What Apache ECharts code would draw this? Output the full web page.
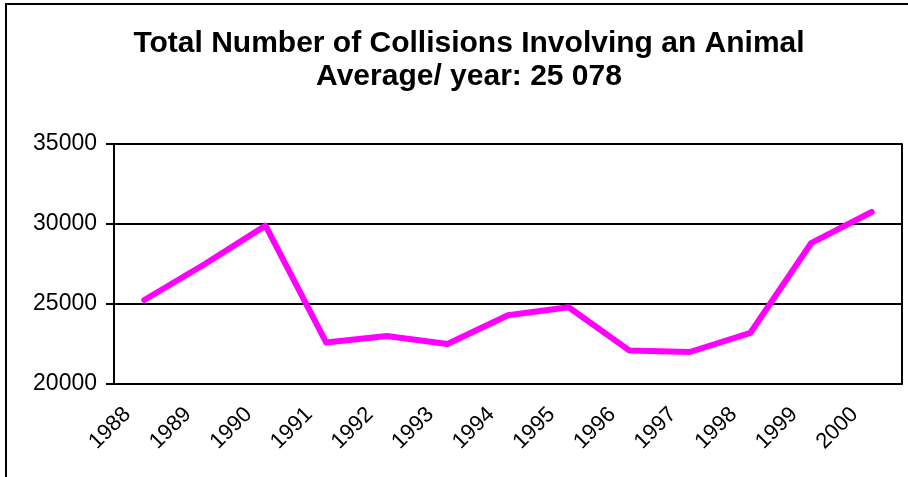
<!DOCTYPE html>
<html>
<head>
<meta charset="utf-8">
<script src="https://cdn.jsdelivr.net/npm/echarts@6/dist/echarts.min.js"></script>
<style>
  html, body { margin: 0; padding: 0; background: #fff; }
  #chart { width: 908px; height: 477px; }
</style>
</head>
<body>
<div id="chart"></div>
<script>
// values
const years = ['1988', '1989', '1990', '1991', '1992', '1993', '1994',
  '1995', '1996', '1997', '1998', '1999', '2000'];
const collisions = [25250, 27500, 29900, 22600, 23000, 22500, 24300,
  24800, 22100, 22000, 23200, 28800, 30750];
const yMin = 20000, yMax = 35000, yStep = 5000;

const font = '"Liberation Sans", Arial, sans-serif';
let chart = echarts.init(document.getElementById('chart'));
chart.setOption({
  animation: false,
  title: {
    text: 'Total Number of Collisions Involving an Animal\nAverage/ year: 25 078',
    left: 464,
    top: 22,
    textAlign: 'center',
    textStyle: {
      fontFamily: font,
      fontWeight: 'bold',
      fontSize: 30,
      lineHeight: 33,
      color: '#000'
    }
  },
  graphic: [{
    type: 'rect',
    shape: { x: 6, y: 4, width: 1000, height: 1000 },
    style: { fill: 'none', stroke: '#000', lineWidth: 2 }
  }],
  grid: { left: 114, right: 6, top: 144, bottom: 93 },
  xAxis: {
    type: 'category',
    data: years,
    boundaryGap: true,
    axisLine: { lineStyle: { color: '#000', width: 2 } },
    axisTick: { length: 6, lineStyle: { color: '#000', width: 2 } },
    axisLabel: {
      interval: 0,
      rotate: 45,
      margin: 10,
      padding: [0, 24, 0, 0],
      fontFamily: font,
      fontSize: 22,
      color: '#000'
    }
  },
  yAxis: [{
    type: 'value',
    min: yMin,
    max: yMax,
    interval: yStep,
    axisLine: { show: true, lineStyle: { color: '#000', width: 2 } },
    axisTick: { show: true, length: 8, lineStyle: { color: '#000', width: 2 } },
    axisLabel: {
      margin: 17,
      fontFamily: font,
      fontSize: 23,
      color: '#000',
      formatter: (v) => String(v)
    },
    splitLine: { lineStyle: { color: '#000', width: 2 } }
  }, {
    // right edge of the plot frame
    type: 'value',
    position: 'right',
    min: yMin,
    max: yMax,
    interval: yStep,
    axisLine: { show: true, lineStyle: { color: '#000', width: 2 } },
    axisTick: { show: false },
    axisLabel: { show: false },
    splitLine: { show: false }
  }],
  series: [{
    type: 'line',
    data: collisions,
    symbol: 'none',
    lineStyle: { color: '#ff00ff', width: 6, cap: 'round', join: 'round' }
  }]
});
</script>
</body>
</html>
